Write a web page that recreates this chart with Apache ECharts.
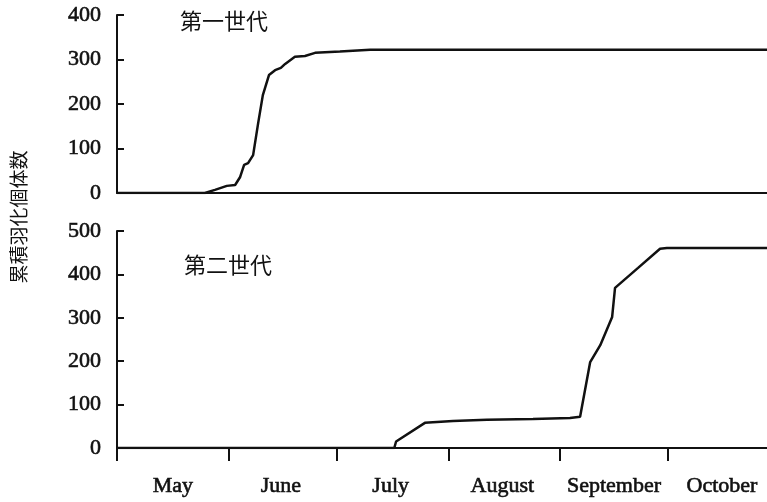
<!DOCTYPE html>
<html>
<head>
<meta charset="utf-8">
<script src="https://cdn.jsdelivr.net/npm/echarts@6/dist/echarts.min.js"></script>
<style>
  html, body { margin: 0; padding: 0; background: #fff; }
  #chart { width: 767px; height: 502px; }
</style>
</head>
<body>
<div id="chart"></div>
<script>
// Days are counted from 1 May.
const monthStartDays = [0, 31, 61, 92, 123, 153];
const monthNames = ['May', 'June', 'July', 'August', 'September', 'October'];
const monthMidDays = [15.5, 45.5, 76, 107, 138, 168];
const lastDay = 180.5;

// First generation: cumulative number of emerged adults
const gen1Days   = [0, 24.4, 27.2, 30.5, 32.8, 34.2, 35.3, 36.4, 37.8, 39.2, 40.5, 42.2, 43.9, 45.5, 46.7, 49.4, 52.2, 55, 61.9, 70.3, 180.5];
const gen1Counts = [0, 0,    7,    16,   18,   36,   63,   67,   85,   157,  220,  265,  276,  281,  290,  306,  308,  315, 318,  322,  322];

// Second generation: cumulative number of emerged adults
const gen2Days   = [0, 77, 77.5, 85.5, 93.3, 102.7, 115.5, 125.8, 128.6, 131.4, 134.2, 137.5, 138.3, 144.7, 150.8, 152.7, 180.5];
const gen2Counts = [0, 0,  15,   58,   62,   65,    67,    69,    72,    198,   237,   302,   369,   415,   459,   461,   461];

const yTicksTop = { min: 0, max: 400, interval: 100 };
const yTicksBottom = { min: 0, max: 500, interval: 100 };

const ink = '#111';
const serif = '"Liberation Serif", "DejaVu Serif", serif';
const cjk = '"Noto Sans CJK JP", "Noto Sans CJK SC", sans-serif';

// Serif labels with a hairline outline for a slightly heavier, print-like stroke
const labelText = {
  fontFamily: serif, fontSize: 22, color: ink,
  textBorderColor: ink, textBorderWidth: 0.6
};

function pairs(xs, ys) { return xs.map((x, i) => [x, ys[i]]); }

function xAxisFor(gridIndex, showMarks) {
  return {
    type: 'value', gridIndex: gridIndex, min: 0, max: lastDay,
    axisLine: { show: true, lineStyle: { color: ink, width: 2 } },
    splitLine: { show: false },
    axisTick: showMarks
      ? { show: true, inside: false, length: 13, customValues: monthStartDays, lineStyle: { color: ink, width: 2 } }
      : { show: false },
    axisLabel: showMarks
      ? Object.assign({
          show: true, customValues: monthMidDays, margin: 27,
          formatter: v => monthNames[monthMidDays.indexOf(v)] || ''
        }, labelText)
      : { show: false }
  };
}

function yAxisFor(gridIndex, ticks) {
  return {
    type: 'value', gridIndex: gridIndex,
    min: ticks.min, max: ticks.max, interval: ticks.interval,
    axisLine: { show: true, lineStyle: { color: ink, width: 2 } },
    axisTick: { show: true, inside: true, length: 7, lineStyle: { color: ink, width: 2 } },
    splitLine: { show: false },
    axisLabel: Object.assign({ margin: 16 }, labelText)
  };
}

const chart = echarts.init(document.getElementById('chart'), null, { renderer: 'canvas' });

chart.setOption({
  animation: false,
  backgroundColor: '#fff',
  grid: [
    { left: 117, right: 0, top: 15, height: 178 },
    { left: 117, right: 0, top: 231, height: 217 }
  ],
  xAxis: [xAxisFor(0, false), xAxisFor(1, true)],
  yAxis: [yAxisFor(0, yTicksTop), yAxisFor(1, yTicksBottom)],
  graphic: [
    {
      type: 'text', left: 180, top: 10,
      style: { text: '第一世代', font: '22px ' + cjk, fill: ink }
    },
    {
      type: 'text', left: 184, top: 254,
      style: { text: '第二世代', font: '22px ' + cjk, fill: ink }
    },
    {
      type: 'text', x: 19, y: 217, rotation: Math.PI / 2,
      style: { text: '累積羽化個体数', font: '19px ' + cjk, fill: ink, align: 'center', verticalAlign: 'middle' }
    }
  ],
  series: [
    {
      name: '第一世代', type: 'line', xAxisIndex: 0, yAxisIndex: 0,
      data: pairs(gen1Days, gen1Counts), showSymbol: false,
      lineStyle: { color: ink, width: 2.5 }
    },
    {
      name: '第二世代', type: 'line', xAxisIndex: 1, yAxisIndex: 1,
      data: pairs(gen2Days, gen2Counts), showSymbol: false,
      lineStyle: { color: ink, width: 2.5 }
    }
  ]
});
</script>
</body>
</html>
